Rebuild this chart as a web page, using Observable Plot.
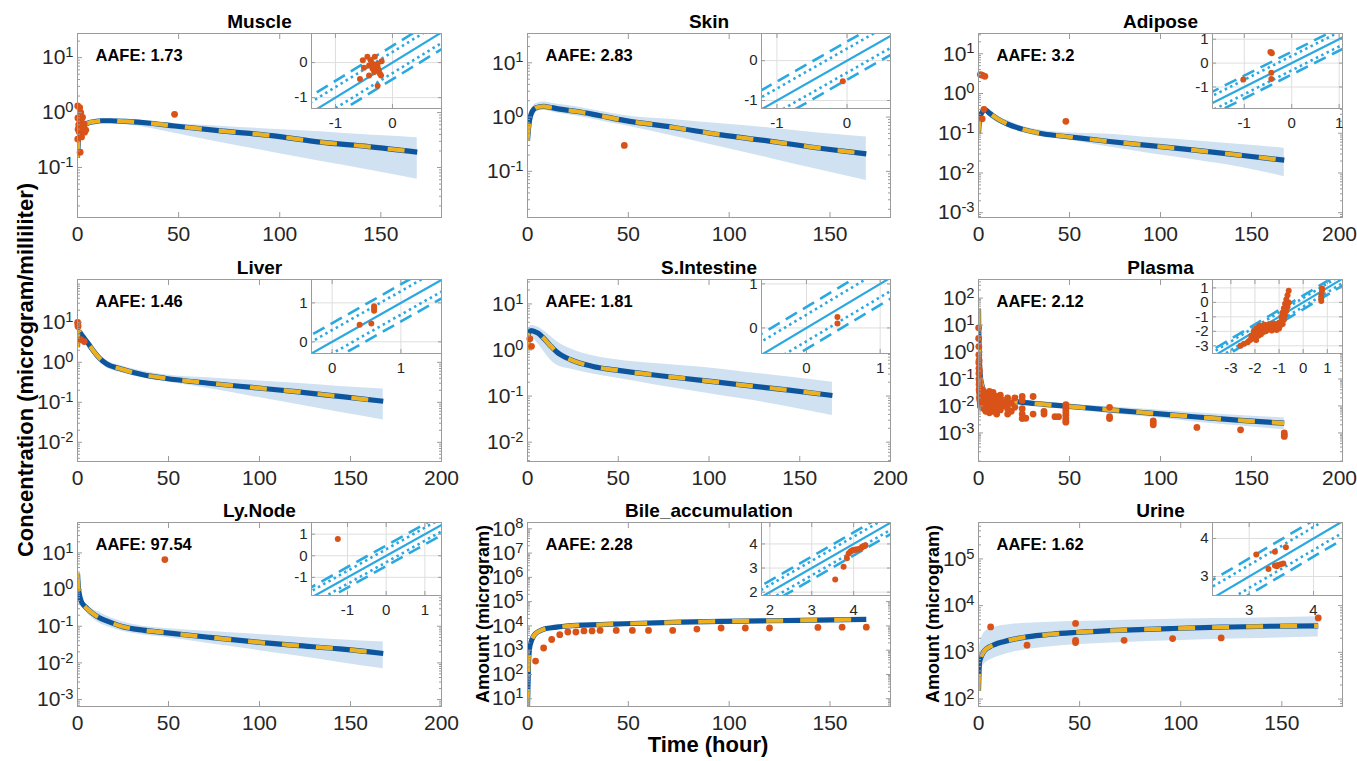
<!DOCTYPE html>
<html><head><meta charset="utf-8">
<script src="https://cdn.jsdelivr.net/npm/d3@7"></script>
<script src="https://cdn.jsdelivr.net/npm/@observablehq/plot@0.6"></script>
<style>
body{margin:0;background:#fff;}
#fig{position:relative;width:1357px;height:761px;overflow:hidden;background:#fff;}
#fig svg{position:absolute;overflow:visible;}
</style></head><body><div id="fig"></div>
<script>
// ---------- data ----------
const T = [0, 0.5, 1, 2, 3, 4, 6, 8, 12, 16, 24, 36, 48, 72, 96, 120, 144, 168];
const plasmaT = [0, 0.1, 0.25, 0.5, 1, 2, 3, 4, 6, 8, 12, 16, 24, 36, 48, 72, 96, 120, 144, 168];

const muscleMean = [0.15, 0.33, 0.42, 0.53, 0.57, 0.61, 0.66, 0.68, 0.71, 0.71, 0.69, 0.64, 0.57, 0.46, 0.38, 0.29, 0.24, 0.19];
const muscleLo = [0.13, 0.3, 0.38, 0.48, 0.52, 0.55, 0.6, 0.62, 0.64, 0.63, 0.6, 0.52, 0.42, 0.28, 0.19, 0.13, 0.09, 0.061];
const muscleHi = [0.17, 0.37, 0.46, 0.58, 0.63, 0.67, 0.72, 0.75, 0.78, 0.78, 0.76, 0.7, 0.63, 0.56, 0.5, 0.45, 0.39, 0.35];
const musclePts = [[0.1,1.32],[1.1,1.23],[1.6,1.0],[0.2,0.8],[1.7,0.76],[2.5,0.82],[0.6,0.6],[3.3,0.62],[2.5,0.52],[1.7,0.42],[4.1,0.48],[0.1,0.33],[1.3,0.19],[2.8,0.55],[0.8,0.45],[3.5,0.44],[1.2,0.68],[0.3,0.5],[2.0,0.36],[48,0.93]];
const muscleInset = [[-0.52,0.07],[-0.44,0.17],[-0.38,0.07],[-0.31,0.17],[-0.19,0.04],[-0.5,-0.15],[-0.41,-0.08],[-0.35,-0.17],[-0.32,-0.22],[-0.29,-0.17],[-0.26,-0.13],[-0.24,-0.22],[-0.22,-0.32],[-0.2,-0.37],[-0.41,-0.37],[-0.57,-0.47],[-0.26,-0.66],[-0.32,-0.27],[-0.26,-0.03],[-0.35,-0.03]];

const skinMean = [0.37, 0.61, 0.87, 1.19, 1.37, 1.47, 1.55, 1.57, 1.49, 1.4, 1.28, 1.06, 0.87, 0.65, 0.47, 0.36, 0.27, 0.21];
const skinLo = [0.33, 0.53, 0.75, 1.02, 1.17, 1.25, 1.31, 1.33, 1.25, 1.16, 1.05, 0.86, 0.7, 0.45, 0.28, 0.175, 0.108, 0.068];
const skinHi = [0.42, 0.72, 1.03, 1.42, 1.64, 1.76, 1.86, 1.89, 1.8, 1.7, 1.55, 1.28, 1.07, 0.9, 0.75, 0.63, 0.51, 0.43];
const skinPts = [[48,0.3]];
const skinInset = [[-0.06,-0.52]];

const adiposeMean = [0.1, 0.21, 0.27, 0.34, 0.38, 0.38, 0.32, 0.275, 0.21, 0.17, 0.127, 0.096, 0.083, 0.062, 0.048, 0.037, 0.028, 0.021];
const adiposeLo = [0.09, 0.18, 0.23, 0.28, 0.31, 0.31, 0.26, 0.22, 0.17, 0.14, 0.105, 0.079, 0.069, 0.045, 0.03, 0.021, 0.014, 0.008];
const adiposeHi = [0.12, 0.26, 0.33, 0.41, 0.46, 0.46, 0.4, 0.34, 0.25, 0.21, 0.15, 0.116, 0.103, 0.095, 0.077, 0.064, 0.052, 0.042];
const adiposePts = [[1,3.0],[2,2.9],[3.5,2.7],[3,0.4],[2,0.23],[48,0.2]];
const adiposeInset = [[-1.02,-0.69],[-0.43,0.44],[-0.45,0.47],[-0.42,0.41],[-0.43,-0.4],[-0.43,-0.67]];

const liverMean = [2.4, 5.6, 5.8, 5.1, 4.4, 3.8, 2.9, 2.15, 1.28, 0.91, 0.68, 0.49, 0.4, 0.3, 0.235, 0.185, 0.14, 0.106];
const liverLo = [2.0, 4.7, 4.9, 4.3, 3.7, 3.1, 2.3, 1.7, 1.0, 0.73, 0.55, 0.41, 0.33, 0.22, 0.14, 0.089, 0.056, 0.036];
const liverHi = [2.8, 6.6, 6.8, 6.0, 5.2, 4.6, 3.5, 2.6, 1.6, 1.12, 0.82, 0.6, 0.49, 0.41, 0.35, 0.3, 0.25, 0.215];
const liverPts = [[0.1,10],[0.2,8.8],[0.3,7.8],[1.8,3.7],[3.7,3.3]];
const liverInset = [[0.4,0.44],[0.57,0.47],[0.61,0.91],[0.61,0.85],[0.61,0.8]];

const sintMean = [1.0, 2.2, 2.45, 2.65, 2.6, 2.5, 2.3, 1.95, 1.32, 0.92, 0.61, 0.44, 0.37, 0.28, 0.22, 0.17, 0.135, 0.103];
const sintLo = [0.85, 1.7, 1.9, 1.9, 1.8, 1.65, 1.35, 1.05, 0.65, 0.47, 0.38, 0.3, 0.25, 0.17, 0.12, 0.085, 0.058, 0.038];
const sintHi = [1.15, 2.8, 3.1, 3.4, 3.4, 3.3, 3.1, 2.8, 2.1, 1.55, 1.05, 0.75, 0.62, 0.5, 0.42, 0.33, 0.26, 0.2];
const sintPts = [[1.3,1.75],[2.2,1.2]];
const sintInset = [[0.42,0.25],[0.42,0.1]];

const plasmaMean = [40, 10, 3, 0.5, 0.13, 0.055, 0.036, 0.03, 0.024, 0.021, 0.018, 0.016, 0.0135, 0.0115, 0.0098, 0.0072, 0.0053, 0.0039, 0.0029, 0.0023];
const plasmaLo = [32, 8, 2.4, 0.4, 0.1, 0.045, 0.03, 0.025, 0.02, 0.0175, 0.015, 0.0132, 0.011, 0.0092, 0.0077, 0.0053, 0.0037, 0.0025, 0.0018, 0.0013];
const plasmaHi = [50, 12.5, 3.8, 0.63, 0.16, 0.068, 0.044, 0.037, 0.029, 0.026, 0.022, 0.0195, 0.0165, 0.0142, 0.0122, 0.0093, 0.0072, 0.0056, 0.0044, 0.0036];
const plasmaPts = [[0.08,7.9],[0.08,3.2],[0.17,1.6],[0.17,0.79],[0.17,0.4],[0.25,0.25],[0.25,0.16],[0.25,0.1],[0.33,0.063],[0.33,0.04],[0.33,0.5],[0.5,0.032],[0.5,0.02],[0.5,0.079],[0.5,0.2],[0.75,0.025],[0.75,0.016],[0.75,0.05],[1,0.032],[1,0.02],[1,0.0126],[1,0.01],[1.5,0.025],[1.5,0.016],[1.5,0.0112],[2,0.04],[2,0.025],[2,0.0178],[2,0.0126],[2,0.0089],[3,0.032],[3,0.02],[3,0.0141],[3,0.01],[3,0.0079],[4,0.028],[4,0.0178],[4,0.0126],[4,0.0089],[4,0.0063],[5,0.025],[5,0.016],[5,0.0112],[6,0.035],[6,0.02],[6,0.0126],[6,0.0079],[6,0.0056],[7,0.0178],[7,0.0112],[8,0.032],[8,0.0224],[8,0.0141],[8,0.01],[8,0.0063],[9,0.016],[9,0.0079],[10,0.0224],[10,0.0126],[10,0.0089],[10,0.005],[12,0.025],[12,0.0178],[12,0.0112],[12,0.0071],[14,0.0141],[14,0.01],[16,0.02],[16,0.0126],[16,0.0079],[16,0.005],[18,0.0126],[18,0.0063],[20,0.02],[20,0.0089],[24,0.0224],[24,0.016],[24,0.0079],[24,0.005],[24,0.0034],[26,0.0035],[30,0.0224],[30,0.005],[36,0.0063],[36,0.005],[42,0.004],[44,0.004],[48,0.0112],[48,0.0089],[48,0.0071],[48,0.0056],[48,0.0045],[48,0.0035],[48,0.0028],[48,0.0025],[72,0.0089],[72,0.004],[72,0.0034],[96,0.0028],[96,0.0024],[96,0.002],[120,0.0016],[144,0.0013],[168,0.001],[168,0.00085],[168,0.00074]];
const plasmaInset = [[-2.6,-3.0],[-2.45,-2.85],[-2.3,-2.75],[-2.2,-2.6],[-2.15,-2.3],[-2.1,-2.5],[-2.05,-2.0],[-2.0,-2.4],[-2.0,-2.2],[-1.95,-2.6],[-1.95,-1.8],[-1.9,-2.1],[-1.85,-2.3],[-1.85,-1.7],[-1.8,-2.0],[-1.8,-1.6],[-1.75,-2.2],[-1.7,-1.9],[-1.7,-1.7],[-1.65,-2.05],[-1.6,-1.8],[-1.6,-1.55],[-1.55,-2.0],[-1.5,-1.7],[-1.5,-1.9],[-1.45,-1.6],[-1.4,-1.85],[-1.4,-1.5],[-1.35,-1.75],[-1.3,-1.95],[-1.3,-1.6],[-1.25,-1.45],[-1.2,-1.8],[-1.2,-1.65],[-1.15,-1.5],[-1.1,-1.9],[-1.1,-1.7],[-1.05,-1.55],[-1.0,-1.4],[-1.0,-1.8],[-0.95,-1.6],[-0.9,-1.3],[-0.9,-1.0],[-0.85,-1.5],[-0.85,-0.7],[-0.8,-1.2],[-0.8,-0.4],[-0.75,-0.9],[-0.75,-0.1],[-0.7,-0.6],[-0.7,0.2],[-0.65,-0.3],[-0.65,0.5],[-0.6,0.0],[-0.6,0.8],[0.75,0.1],[0.75,0.3],[0.75,0.55],[0.78,0.8],[0.78,0.95]];

const lynodeMean = [2.7, 1.1, 0.75, 0.48, 0.4, 0.35, 0.28, 0.23, 0.17, 0.14, 0.1, 0.078, 0.067, 0.05, 0.038, 0.03, 0.024, 0.018];
const lynodeLo = [2.5, 0.95, 0.62, 0.38, 0.31, 0.27, 0.21, 0.17, 0.12, 0.1, 0.074, 0.058, 0.05, 0.034, 0.023, 0.0156, 0.0103, 0.0069];
const lynodeHi = [2.9, 1.3, 0.92, 0.6, 0.5, 0.44, 0.36, 0.3, 0.24, 0.19, 0.135, 0.1, 0.087, 0.073, 0.061, 0.051, 0.043, 0.037];
const lynodePts = [[48,6.6]];
const lynodeInset = [[-1.25,0.78]];

const bileMean = [5, 316, 1150, 2500, 3800, 4800, 6200, 7300, 8400, 9200, 10500, 11200, 12300, 14000, 15500, 16300, 17300, 18600];
const bileLo = [4, 260, 960, 2100, 3200, 4050, 5250, 6200, 7150, 7800, 8900, 9500, 10400, 11900, 13100, 13800, 14700, 15800];
const bileHi = [6, 380, 1350, 2950, 4450, 5600, 7200, 8500, 9700, 10600, 12100, 12900, 14200, 16100, 17800, 18700, 19900, 21400];
const bilePts = [[4,355],[8,1230],[12,2750],[16,4350],[20,5600],[24,5600],[28,6200],[32,6200],[36,6500],[44,6500],[52,6500],[60,6500],[72,6500],[84,7400],[96,8200],[108,8200],[120,8200],[144,8700],[156,8900],[168,8900]];
const bileInset = [[3.56,2.52],[3.76,3.05],[3.84,3.41],[3.88,3.6],[3.92,3.68],[3.95,3.72],[3.98,3.74],[4.0,3.75],[4.03,3.76],[4.06,3.77],[4.09,3.77],[4.12,3.78],[4.15,3.8],[4.18,3.83],[4.2,3.87],[4.22,3.89],[4.24,3.9],[4.26,3.92],[4.27,3.93],[4.28,3.95]];

const urineMean = [150, 620, 735, 940, 1090, 1200, 1350, 1470, 1670, 1850, 2140, 2440, 2660, 3000, 3240, 3450, 3620, 3700];
const urineLo = [120, 330, 400, 500, 570, 620, 700, 770, 880, 980, 1150, 1320, 1450, 1620, 1770, 1900, 2010, 2130];
const urineHi = [200, 1300, 1700, 2300, 2700, 2950, 3250, 3450, 3750, 3950, 4200, 4400, 4550, 4850, 5100, 5300, 5500, 5750];
const urinePts = [[6,3500],[24,1420],[48,4150],[48,1810],[48,1620],[72,1810],[96,1970],[120,2030],[168,5450]];
const urineInset = [[3.11,3.58],[3.3,3.2],[3.4,3.65],[3.4,3.29],[3.43,3.27],[3.45,3.3],[3.49,3.32],[3.53,3.34],[3.57,3.77]];

const titles = ["Muscle","Skin","Adipose","Liver","S.Intestine","Plasma","Ly.Node","Bile_accumulation","Urine"];
const aafe = ["AAFE: 1.73","AAFE: 2.83","AAFE: 3.2","AAFE: 1.46","AAFE: 1.81","AAFE: 2.12","AAFE: 97.54","AAFE: 2.28","AAFE: 1.62"];

// ---------- layout ----------
const FONT = '"Liberation Sans", Arial, Helvetica, sans-serif';
const BLUE = "#0d559c", YELLOW = "#edb120", RED = "#d95319", BAND = "#d0e1f2", CYAN = "#2aa8e0", AXIS = "#9b9b9b", TXT = "#262626";
const colX = [[77,441],[527,890],[978,1342]];
const rowY = [[33,217],[279,461],[522,706]];
const insetColX = [[311,441],[761,890],[1212,1342]];
const insetRowY = [[33,108],[279,353],[522,595]];

const panels = [
  {T, mean:muscleMean, lo:muscleLo, hi:muscleHi, pts:musclePts, xmax:180, yd:[-1.91,1.44], yt:[-1,1],
   inset:{pts:muscleInset, xd:[-1.42,0.86], yd:[-1.31,0.83], xt:[-1,0], yt:[-1,0]}},
  {T, mean:skinMean, lo:skinLo, hi:skinHi, pts:skinPts, xmax:180, yd:[-1.85,1.54], yt:[-1,1],
   inset:{pts:skinInset, xd:[-1.22,0.62], yd:[-1.2,0.68], xt:[-1,0], yt:[-1,0]}},
  {T, mean:adiposeMean, lo:adiposeLo, hi:adiposeHi, pts:adiposePts, xmax:200, yd:[-3.12,1.51], yt:[-3,1],
   inset:{pts:adiposeInset, xd:[-1.67,1.07], yd:[-1.9,1.24], xt:[-1,0,1], yt:[-1,0,1]}},
  {T, mean:liverMean, lo:liverLo, hi:liverHi, pts:liverPts, xmax:200, yd:[-2.48,2.07], yt:[-2,1],
   inset:{pts:liverInset, xd:[-0.3,1.59], yd:[-0.3,1.6], xt:[0,1], yt:[0,1]}},
  {T, mean:sintMean, lo:sintLo, hi:sintHi, pts:sintPts, xmax:200, yd:[-2.42,1.53], yt:[-2,1],
   inset:{pts:sintInset, xd:[-0.61,1.14], yd:[-0.58,1.1], xt:[0,1], yt:[0,1]}},
  {T:plasmaT, mean:plasmaMean, lo:plasmaLo, hi:plasmaHi, pts:plasmaPts, xmax:200, yd:[-4.06,2.69], yt:[-3,2],
   inset:{pts:plasmaInset, xd:[-3.76,1.63], yd:[-3.53,1.58], xt:[-3,-2,-1,0,1], yt:[-3,-2,-1,0,1]}},
  {T, mean:lynodeMean, lo:lynodeLo, hi:lynodeHi, pts:lynodePts, xmax:200, yd:[-3.19,1.83], yt:[-3,1],
   inset:{pts:lynodeInset, xd:[-1.93,1.43], yd:[-1.84,1.54], xt:[-1,0,1], yt:[-1,0,1]}},
  {T, mean:bileMean, lo:bileLo, hi:bileHi, pts:bilePts, xmax:180, yd:[0.68,8.26], yt:[1,8],
   inset:{pts:bileInset, xd:[1.8,4.88], yd:[1.86,4.89], xt:[2,3,4], yt:[2,3,4]}},
  {T, mean:urineMean, lo:urineLo, hi:urineHi, pts:urinePts, xmax:180, yd:[1.84,5.78], yt:[2,5],
   inset:{pts:urineInset, xd:[2.43,4.45], yd:[2.5,4.42], xt:[3,4], yt:[3,4]}}
];

const fig = document.getElementById("fig");
const NS = "http://www.w3.org/2000/svg";

function sup(svg){
  svg.querySelectorAll("text").forEach(t => {
    const m = /^10\^(-?\d+)$/.exec(t.textContent);
    if (m) {
      t.textContent = "10";
      const s = document.createElementNS(NS, "tspan");
      s.setAttribute("dy", "-0.48em");
      s.setAttribute("font-size", "0.7em");
      s.textContent = m[1];
      t.appendChild(s);
    }
  });
}
function place(svg, left, top){
  svg.style.left = left + "px";
  svg.style.top = top + "px";
  fig.appendChild(svg);
}

const L2 = Math.log10(2), L3 = Math.log10(3);
function foldData(q, offs){
  const x0 = q.xd[0] - 2, x1 = q.xd[1] + 2;
  return offs.flatMap((o, i) => [{x:x0, y:x0 + o, g:i}, {x:x1, y:x1 + o, g:i}]);
}

panels.forEach((p, i) => {
  const [L, R] = colX[i % 3], [Tp, B] = rowY[Math.floor(i / 3)];
  const ML = 62, MR = 24, MT = 36, MB = 40;
  const curve = p.T.map((t, k) => ({t, m:p.mean[k], lo:p.lo[k], hi:p.hi[k]}));
  const pts = p.pts.map(([t, v]) => ({t, v}));
  const ylo = 10 ** p.yd[0], yhi = 10 ** p.yd[1];
  const major = d3.range(p.yt[0], p.yt[1] + 1).map(e => 10 ** e);
  const minor = [];
  for (let e = Math.floor(p.yd[0]); e <= Math.ceil(p.yd[1]); e++)
    for (let k = 2; k < 10; k++) { const v = k * 10 ** e; if (v > ylo && v < yhi) minor.push(v); }
  const xt = d3.range(0, p.xmax + 1, 50);
  const edge = (i % 3 === 2) && p.xmax === 200;   // right-edge "200" label on last column
  const xtMain = edge ? xt.slice(0, -1) : xt;
  const xAxes = [
    Plot.axisX({ticks: xt, tickSize: -5, tickFormat: () => "", label: null, stroke: AXIS}),
    Plot.axisX({ticks: xtMain, tickSize: 0, tickPadding: 9, tickFormat: d => String(d), label: null})
  ];
  if (edge) xAxes.push(Plot.axisX({ticks: [p.xmax], tickSize: 0, tickPadding: 9, dx: -3, tickFormat: d => String(d), label: null}));
  const svg = Plot.plot({
    width: R - L + ML + MR, height: B - Tp + MT + MB,
    marginLeft: ML, marginRight: MR, marginTop: MT, marginBottom: MB,
    style: {fontFamily: FONT, fontSize: "21px", color: TXT, background: "transparent", overflow: "visible"},
    x: {domain: [0, p.xmax]},
    y: {type: "log", domain: [ylo, yhi]},
    marks: [
      Plot.areaY(curve, {x: "t", y1: "lo", y2: "hi", fill: BAND, curve: "monotone-x", clip: true}),
      Plot.line(curve, {x: "t", y: "m", stroke: BLUE, strokeWidth: 5.2, strokeLinecap: "butt", curve: "monotone-x", clip: true}),
      Plot.line(curve, {x: "t", y: "m", stroke: YELLOW, strokeWidth: 4.2, strokeLinecap: "butt", strokeDasharray: "17,17", curve: "monotone-x", clip: true}),
      Plot.dot(pts, {x: "t", y: "v", r: 3.4, fill: RED}),
      Plot.frame({stroke: AXIS}),
      ...xAxes,
      Plot.axisX({anchor: "top", ticks: xt, tickSize: -5, tickFormat: () => "", label: null, stroke: AXIS}),
      Plot.axisY({ticks: major, tickSize: -5, tickPadding: 9, tickFormat: d => "10^" + Math.round(Math.log10(d)), label: null, stroke: AXIS}),
      Plot.axisY({anchor: "right", ticks: major, tickSize: -5, tickFormat: () => "", label: null, stroke: AXIS}),
      Plot.axisY({ticks: minor, tickSize: -3, tickFormat: () => "", label: null, stroke: AXIS}),
      Plot.axisY({anchor: "right", ticks: minor, tickSize: -3, tickFormat: () => "", label: null, stroke: AXIS}),
      Plot.text([titles[i]], {frameAnchor: "top", dy: -6, lineAnchor: "bottom", text: d => d, fontWeight: "bold", fontSize: 19, fill: "#000"}),
      Plot.text([aafe[i]], {frameAnchor: "top-left", dx: 18, dy: 27, lineAnchor: "bottom", textAnchor: "start", text: d => d, fontWeight: "bold", fontSize: 16.5, fill: "#000"})
    ]
  });
  sup(svg);
  place(svg, L - ML, Tp - MT);

  // inset
  const q = p.inset;
  const [iL, iR] = insetColX[i % 3], [iT, iB] = insetRowY[Math.floor(i / 3)];
  const IML = 32, IMR = 1, IMT = 1, IMB = 26;
  const ipts = q.pts.map(([x, y]) => ({x, y}));
  const isvg = Plot.plot({
    width: iR - iL + IML + IMR, height: iB - iT + IMT + IMB,
    marginLeft: IML, marginRight: IMR, marginTop: IMT, marginBottom: IMB,
    style: {fontFamily: FONT, fontSize: "15px", color: TXT, background: "transparent", overflow: "visible"},
    x: {domain: q.xd}, y: {domain: q.yd},
    marks: [
      Plot.frame({fill: "white", stroke: null}),
      Plot.gridX(q.xt, {stroke: "#dedede", strokeOpacity: 1}),
      Plot.gridY(q.yt, {stroke: "#dedede", strokeOpacity: 1}),
      Plot.line(foldData(q, [0]), {x: "x", y: "y", z: "g", stroke: CYAN, strokeWidth: 2.2, clip: true}),
      Plot.line(foldData(q, [L2, -L2]), {x: "x", y: "y", z: "g", stroke: CYAN, strokeWidth: 2.6, strokeLinecap: "butt", strokeDasharray: "2.5,3.5", clip: true}),
      Plot.line(foldData(q, [L3, -L3]), {x: "x", y: "y", z: "g", stroke: CYAN, strokeWidth: 2.6, strokeLinecap: "butt", strokeDasharray: "13,7", clip: true}),
      Plot.dot(ipts, {x: "x", y: "y", r: 3, fill: RED}),
      Plot.frame({stroke: AXIS}),
      Plot.axisX({ticks: q.xt, tickSize: -4, tickPadding: 13, tickFormat: d => String(d), label: null, stroke: AXIS}),
      Plot.axisX({anchor: "top", ticks: q.xt, tickSize: -4, tickFormat: () => "", label: null, stroke: AXIS}),
      Plot.axisY({ticks: q.yt, tickSize: -4, tickPadding: 8, tickFormat: d => String(d), label: null, stroke: AXIS}),
      Plot.axisY({anchor: "right", ticks: q.yt, tickSize: -4, tickFormat: () => "", label: null, stroke: AXIS})
    ]
  });
  place(isvg, iL - IML, iT - IMT);
});

// ---------- shared axis labels ----------
const ov = document.createElementNS(NS, "svg");
ov.setAttribute("width", 1357); ov.setAttribute("height", 761);
ov.style.left = "0px"; ov.style.top = "0px";
ov.setAttribute("font-family", FONT); ov.setAttribute("font-weight", "bold"); ov.setAttribute("fill", "#000");
ov.innerHTML =
  '<text transform="translate(33,370) rotate(-90)" text-anchor="middle" font-size="22">Concentration (microgram/milliliter)</text>' +
  '<text x="708" y="752" text-anchor="middle" font-size="22">Time (hour)</text>' +
  '<text transform="translate(489,614) rotate(-90)" text-anchor="middle" font-size="18">Amount (microgram)</text>' +
  '<text transform="translate(939,614) rotate(-90)" text-anchor="middle" font-size="18">Amount (microgram)</text>';
fig.insertBefore(ov, fig.firstChild);
</script></body></html>
